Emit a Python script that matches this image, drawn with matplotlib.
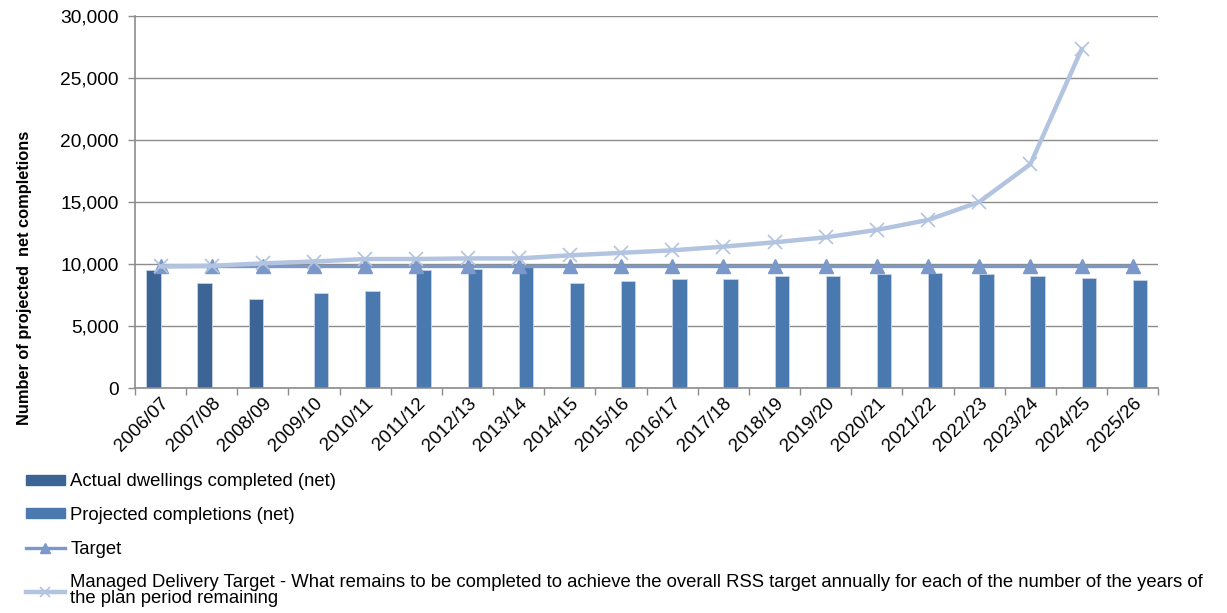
import matplotlib
matplotlib.use("Agg")
import matplotlib.pyplot as plt
import numpy as np
from matplotlib.patches import Patch
from matplotlib.lines import Line2D

plt.rcParams['font.family'] = ['Liberation Sans', 'DejaVu Sans']

years = ["2006/07", "2007/08", "2008/09", "2009/10", "2010/11", "2011/12", "2012/13",
         "2013/14", "2014/15", "2015/16", "2016/17", "2017/18", "2018/19", "2019/20",
         "2020/21", "2021/22", "2022/23", "2023/24", "2024/25", "2025/26"]
actual = [9500, 8500, 7200, None, None, None, None, None, None, None,
          None, None, None, None, None, None, None, None, None, None]
projected = [None, None, None, 7700, 7800, 9500, 9600, 9950, 8500, 8600,
             8800, 8800, 9000, 9000, 9200, 9300, 9200, 9000, 8900, 8700]
target = [9800] * 20
managed = [9800, 9850, 10050, 10200, 10400, 10400, 10450, 10450, 10700, 10900,
           11100, 11400, 11750, 12150, 12750, 13550, 15000, 18050, 27300, None]

labels = ["Actual dwellings completed (net)",
          "Projected completions (net)",
          "Target",
          "Managed Delivery Target - What remains to be completed to achieve the overall RSS target annually for each of the number of the years of\nthe plan period remaining"]

c_actual = "#3C6595"
c_proj = "#4A79B0"
c_target = "#7A98C9"
c_managed = "#B2C4DF"
grid_c = "#8C8C8C"

fig = plt.figure(figsize=(12.27, 6.13), dpi=100)
ax = fig.add_axes([0.110, 0.367, 0.834, 0.607])

x = np.arange(len(years))
w = 0.28
a_vals = np.array([np.nan if v is None else v for v in actual], dtype=float)
p_vals = np.array([np.nan if v is None else v for v in projected], dtype=float)
m_vals = np.array([np.nan if v is None else v for v in managed], dtype=float)

ax.bar(x - w / 2, a_vals, width=w, color=c_actual, edgecolor="#C8D4E6", linewidth=0.6, zorder=2)
ax.bar(x + w / 2, p_vals, width=w, color=c_proj, edgecolor="#C8D4E6", linewidth=0.6, zorder=2)
ax.plot(x, target, color=c_target, lw=2.4, marker="^", markersize=10, zorder=3)
ax.plot(x, m_vals, color=c_managed, lw=3.2, marker="x", markersize=10, markeredgewidth=1.2, zorder=4)

ax.set_xlim(-0.5, len(years) - 0.5)
ax.set_ylim(0, 30000)
ax.set_yticks(np.arange(0, 30001, 5000))
ax.set_yticklabels([f"{v:,}" for v in range(0, 30001, 5000)], fontsize=13.8)
ax.yaxis.grid(True, color=grid_c, lw=1.0, zorder=0)
ax.set_axisbelow(True)

ax.set_xticks(x)
ax.set_xticklabels(years, rotation=45, ha="right", rotation_mode="anchor", fontsize=13.5)
ax.tick_params(axis="x", length=0, pad=5)
ax.set_xticks(np.arange(-0.5, len(years), 1.0), minor=True)
ax.tick_params(axis="x", which="minor", length=5, color=grid_c, width=1)
ax.tick_params(axis="y", length=5, color=grid_c, width=1, pad=6.5)

for s in ["top", "right"]:
    ax.spines[s].set_visible(False)
for s in ["left", "bottom"]:
    ax.spines[s].set_color(grid_c)
    ax.spines[s].set_linewidth(1.2)

ax.set_ylabel("Number of projected  net completions", fontsize=11.8, fontweight="bold")
ax.yaxis.set_label_coords(-0.101, 0.296)

handles = [Patch(facecolor=c_actual, edgecolor=c_actual),
           Patch(facecolor=c_proj, edgecolor=c_proj),
           Line2D([], [], color=c_target, lw=2.4, marker="^", markersize=7),
           Line2D([], [], color=c_managed, lw=3.2, marker="x", markersize=7, markeredgewidth=1.2)]
leg = fig.legend(handles, labels, loc="upper left", bbox_to_anchor=(0.015, 0.240),
                 frameon=False, fontsize=13.3, labelspacing=0.9, handlelength=2.1,
                 handleheight=0.45, handletextpad=0.3, borderaxespad=0)
for t in leg.get_texts():
    t.set_linespacing(0.95)

fig.savefig("out.png", dpi=100)
